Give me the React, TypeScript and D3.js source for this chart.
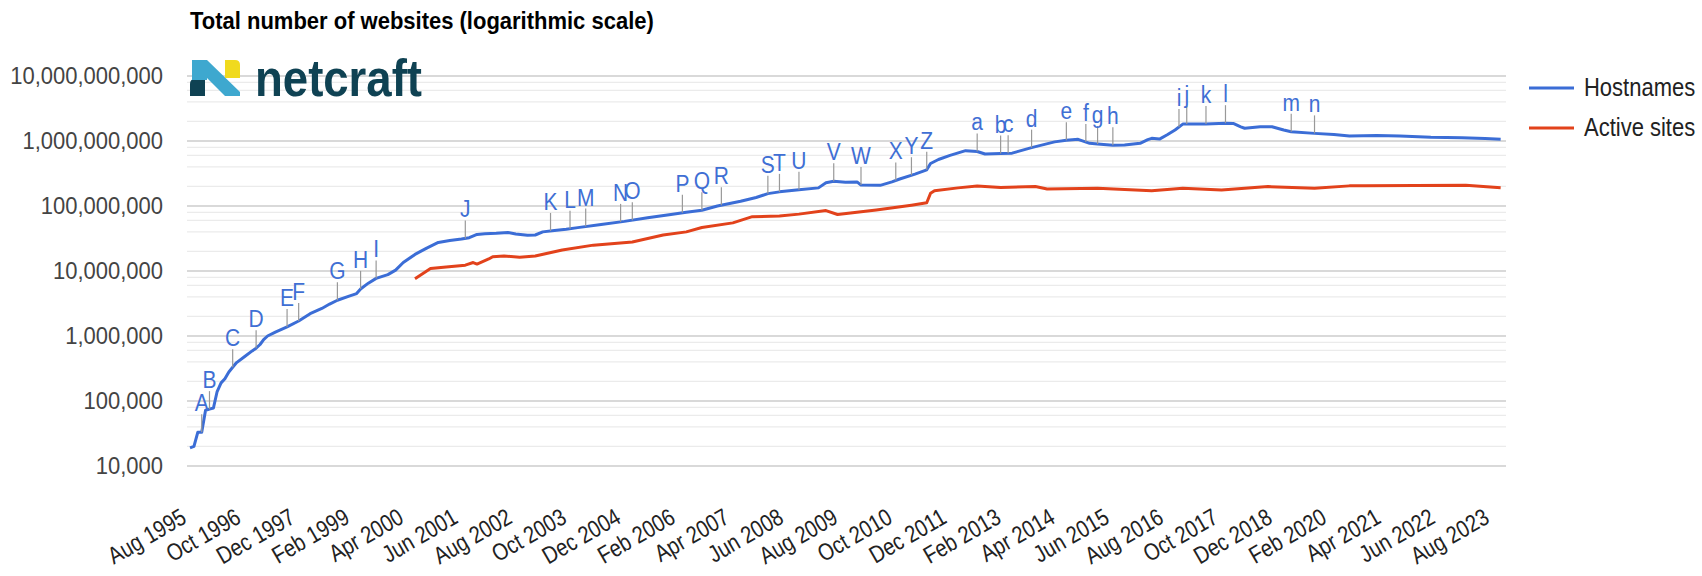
import React from 'react'
import * as d3 from 'd3'

const hostnames: [string, number][] = [
  ['1995-08', 19000], ['1995-09', 20000], ['1995-10', 33000], ['1995-11', 33000],
  ['1995-12', 72000], ['1996-01', 75000], ['1996-02', 78000], ['1996-03', 140000],
  ['1996-04', 190000], ['1996-05', 220000], ['1996-06', 280000], ['1996-07', 330000],
  ['1996-08', 390000], ['1996-10', 480000], ['1996-12', 590000], ['1997-01', 650000],
  ['1997-02', 740000], ['1997-03', 880000], ['1997-04', 1000000], ['1997-06', 1150000],
  ['1997-09', 1380000], ['1997-12', 1700000], ['1998-03', 2200000], ['1998-06', 2650000],
  ['1998-08', 3100000], ['1998-10', 3550000], ['1999-01', 4100000], ['1999-03', 4500000],
  ['1999-04', 5300000], ['1999-06', 6500000], ['1999-08', 7700000], ['1999-11', 8800000],
  ['2000-01', 10300000], ['2000-03', 13500000], ['2000-06', 18000000], ['2000-09', 22500000],
  ['2000-12', 27500000], ['2001-03', 29500000], ['2001-06', 31000000], ['2001-08', 32500000],
  ['2001-10', 36500000], ['2001-12', 37500000], ['2002-03', 38000000], ['2002-06', 39000000],
  ['2002-08', 37000000], ['2002-11', 35500000], ['2003-01', 35800000], ['2003-03', 40000000],
  ['2003-06', 42000000], ['2003-09', 44000000], ['2003-12', 46500000], ['2004-06', 52000000],
  ['2004-12', 58000000], ['2005-06', 66000000], ['2005-12', 74000000], ['2006-04', 80000000],
  ['2006-08', 86000000], ['2006-12', 100000000], ['2007-06', 118000000], ['2007-10', 135000000],
  ['2008-01', 155000000], ['2008-04', 165000000], ['2008-09', 178000000], ['2009-02', 190000000],
  ['2009-04', 228000000], ['2009-06', 240000000], ['2009-09', 232000000], ['2009-12', 235000000],
  ['2010-01', 210000000], ['2010-06', 208000000], ['2010-09', 235000000], ['2010-11', 260000000],
  ['2011-03', 310000000], ['2011-06', 360000000], ['2011-07', 450000000], ['2011-09', 520000000],
  ['2011-12', 600000000], ['2012-04', 710000000], ['2012-07', 690000000], ['2012-09', 630000000],
  ['2013-01', 640000000], ['2013-04', 650000000], ['2013-09', 790000000], ['2014-03', 970000000],
  ['2014-06', 1030000000], ['2014-09', 1060000000], ['2014-12', 920000000], ['2015-02', 900000000],
  ['2015-06', 860000000], ['2015-09', 870000000], ['2016-01', 920000000], ['2016-03', 1050000000],
  ['2016-04', 1100000000], ['2016-06', 1070000000], ['2016-08', 1250000000], ['2016-10', 1480000000],
  ['2016-12', 1820000000], ['2017-06', 1820000000], ['2017-11', 1880000000], ['2018-01', 1860000000],
  ['2018-03', 1650000000], ['2018-04', 1570000000], ['2018-08', 1650000000], ['2018-11', 1660000000],
  ['2019-02', 1480000000], ['2019-04', 1390000000], ['2019-10', 1310000000], ['2020-03', 1260000000],
  ['2020-07', 1190000000], ['2021-02', 1210000000], ['2021-08', 1190000000], ['2022-04', 1140000000],
  ['2022-12', 1120000000], ['2023-06', 1090000000], ['2023-10', 1060000000],
]

const activeSites: [string, number][] = [
  ['2000-06', 7600000], ['2000-10', 10900000], ['2001-02', 11500000], ['2001-07', 12300000],
  ['2001-09', 13500000], ['2001-10', 12800000], ['2002-01', 15300000], ['2002-02', 16600000],
  ['2002-05', 17000000], ['2002-09', 16300000], ['2003-01', 17000000], ['2003-08', 21000000],
  ['2004-04', 25000000], ['2005-02', 28000000], ['2005-10', 35800000], ['2006-04', 40000000],
  ['2006-08', 46800000], ['2007-04', 55000000], ['2007-09', 68500000], ['2008-04', 70000000],
  ['2008-09', 75000000], ['2009-04', 85000000], ['2009-07', 74000000], ['2010-05', 87000000],
  ['2011-02', 103000000], ['2011-06', 112000000], ['2011-07', 157000000], ['2011-08', 172000000],
  ['2012-02', 190000000], ['2012-07', 203000000], ['2013-01', 193000000], ['2013-10', 200000000],
  ['2014-01', 183000000], ['2015-02', 187000000], ['2016-04', 172000000], ['2016-12', 187000000],
  ['2017-10', 176000000], ['2018-10', 199000000], ['2019-10', 187000000], ['2020-07', 204000000],
  ['2020-11', 204000000], ['2023-01', 209000000], ['2023-10', 191000000],
]

const annotations: [string, string][] = [
  ['A', '1995-11'], ['B', '1996-01'], ['C', '1996-07'], ['D', '1997-01'], ['E', '1997-09'],
  ['F', '1997-12'], ['G', '1998-10'], ['H', '1999-04'], ['I', '1999-08'], ['J', '2001-07'],
  ['K', '2003-05'], ['L', '2003-10'], ['M', '2004-02'], ['N', '2004-11'], ['O', '2005-02'],
  ['P', '2006-03'], ['Q', '2006-08'], ['R', '2007-01'], ['S', '2008-01'], ['T', '2008-04'],
  ['U', '2008-09'], ['V', '2009-06'], ['W', '2010-01'], ['X', '2010-10'], ['Y', '2011-02'],
  ['Z', '2011-06'], ['a', '2012-07'], ['b', '2013-01'], ['c', '2013-03'], ['d', '2013-09'],
  ['e', '2014-06'], ['f', '2014-11'], ['g', '2015-02'], ['h', '2015-06'], ['i', '2016-11'],
  ['j', '2017-01'], ['k', '2017-06'], ['l', '2017-11'], ['m', '2019-04'], ['n', '2019-10'],
]

const xTickLabels = [
  'Aug 1995', 'Oct 1996', 'Dec 1997', 'Feb 1999', 'Apr 2000', 'Jun 2001', 'Aug 2002',
  'Oct 2003', 'Dec 2004', 'Feb 2006', 'Apr 2007', 'Jun 2008', 'Aug 2009', 'Oct 2010',
  'Dec 2011', 'Feb 2013', 'Apr 2014', 'Jun 2015', 'Aug 2016', 'Oct 2017', 'Dec 2018',
  'Feb 2020', 'Apr 2021', 'Jun 2022', 'Aug 2023',
]

const yTicks = [1e4, 1e5, 1e6, 1e7, 1e8, 1e9, 1e10]
const minorSteps = [2, 4, 6, 8]

const seriesNames = ['Hostnames', 'Active sites']
const seriesColors = ['#3b6dd6', '#e2421b']

const parseMonth = d3.timeParse('%Y-%m')
const parseLabel = d3.timeParse('%b %Y')
const font = 'Liberation Sans, Arial, sans-serif'

// text that is a bit taller than wide, like the original rendering
function T(props: { x: number, y: number, rot?: number, sy?: number, anchor?: string, size: number,
  fill: string, bold?: boolean, children: React.ReactNode }) {
  const { x, y, rot = 0, sy = 1.15, anchor = 'start', size, fill, bold } = props
  return (
    <text transform={`translate(${x},${y}) rotate(${rot}) scale(1,${sy})`} textAnchor={anchor}
      fontFamily={font} fontSize={size} fontWeight={bold ? 'bold' : 'normal'} fill={fill}>
      {props.children}
    </text>
  )
}

export default function App() {
  const plotLeft = 187
  const plotRight = 1506
  const x = d3.scaleTime()
    .domain([parseMonth('1995-08')!, parseMonth('2023-11')!])
    .range([190, 1504.6])
  const y = d3.scaleLog().domain([1e4, 1e10]).range([466, 76])

  const line = d3.line<[string, number]>()
    .x(d => x(parseMonth(d[0])!))
    .y(d => y(d[1]))

  const fmt = d3.format(',')
  const hostBisect = d3.bisector((d: [string, number]) => parseMonth(d[0])!.getTime()).left

  // y of the hostnames line at a month, for the annotation stems
  const hostY = (m: string) => {
    const t = parseMonth(m)!.getTime()
    const i = hostBisect(hostnames, t)
    if (i <= 0) return y(hostnames[0][1])
    if (i >= hostnames.length) return y(hostnames[hostnames.length - 1][1])
    const a = hostnames[i - 1], b = hostnames[i]
    const ta = parseMonth(a[0])!.getTime(), tb = parseMonth(b[0])!.getTime()
    const f = (t - ta) / (tb - ta)
    return y(a[1]) + (y(b[1]) - y(a[1])) * f
  }

  const minorLines: number[] = []
  yTicks.slice(0, -1).forEach(t => minorSteps.forEach(s => minorLines.push(t * s)))

  return (
    <div style={{ position: 'absolute', left: 0, top: 0 }}>
      <svg width={1702} height={576} style={{ display: 'block', background: '#fff' }}>
        <T x={190} y={29} size={22} bold fill="#000" sy={1.1}>
          Total number of websites (logarithmic scale)
        </T>

        {minorLines.map(v => (
          <line key={'mn' + v} x1={plotLeft} x2={plotRight} y1={y(v)} y2={y(v)} stroke="#ebebeb" strokeWidth={1.2} />
        ))}
        {yTicks.map(v => (
          <g key={'mj' + v}>
            <line x1={plotLeft} x2={plotRight} y1={y(v)} y2={y(v)} stroke="#cccccc" strokeWidth={1.5} />
            <T x={163} y={y(v) + 8} anchor="end" size={22} fill="#444" sy={1.08}>{fmt(v)}</T>
          </g>
        ))}

        {/* netcraft logo */}
        <g>
          <path d="M190,84 Q190,79 195,79 L205,79 L205,96 L190,96 Z" fill="#0f4253" />
          <polygon points="192,60 207,60 240,92 240,96 225,96 207,78 207,80 192,80" fill="#3ea8cf" />
          <path d="M225,60 L235,60 Q240,60 240,65 L240,78 L225,78 Z" fill="#f0da1e" />
          <text x={255} y={96} fontFamily={font} fontSize={52} fontWeight="bold" fill="#0f4253"
            textLength={167} lengthAdjust="spacingAndGlyphs">netcraft</text>
        </g>

        <path d={line(activeSites) || ''} fill="none" stroke={seriesColors[1]} strokeWidth={3} strokeLinejoin="round" />
        <path d={line(hostnames) || ''} fill="none" stroke={seriesColors[0]} strokeWidth={3} strokeLinejoin="round" />

        {annotations.map(([label, m]) => {
          const ax = x(parseMonth(m)!)
          const ay = hostY(m)
          return (
            <g key={label}>
              <line x1={ax} x2={ax} y1={ay} y2={ay - 18} stroke="#999" strokeWidth={1.2} />
              <T x={ax} y={ay - 21} anchor="middle" size={21} fill="#3f6fd4" sy={1.1}>{label}</T>
            </g>
          )
        })}

        {xTickLabels.map(l => {
          const lx = x(parseLabel(l)!)
          return (
            <T key={l} x={lx - 2} y={522} rot={-30} anchor="end" size={20} fill="#222" sy={1.2}>{l}</T>
          )
        })}

        {seriesNames.map((n, i) => (
          <g key={n}>
            <line x1={1529} x2={1574} y1={88 + i * 40} y2={88 + i * 40} stroke={seriesColors[i]} strokeWidth={3} />
            <T x={1584} y={96 + i * 40} size={22} fill="#222">{n}</T>
          </g>
        ))}
      </svg>
    </div>
  )
}
